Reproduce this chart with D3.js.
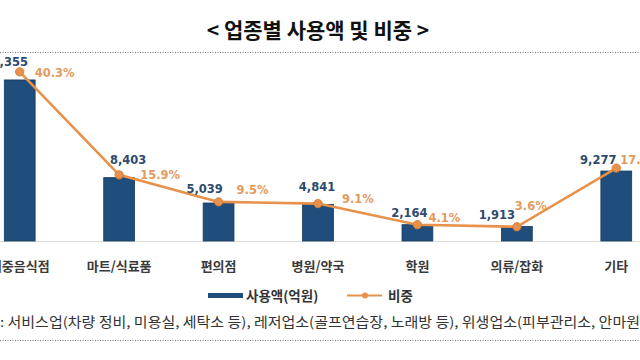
<!DOCTYPE html>
<html><head><meta charset="utf-8">
<script src="https://cdn.jsdelivr.net/npm/d3@7/dist/d3.min.js"></script>
<style>body{margin:0;background:#fff}svg{display:block}</style>
</head><body><svg id="c" width="640" height="360"></svg>
<script>
const categories = ["대중음식점","마트/식료품","편의점","병원/약국","학원","의류/잡화","기타"];
const amounts = [21355, 8403, 5039, 4841, 2164, 1913, 9277];
const shares = [40.3, 15.9, 9.5, 9.1, 4.1, 3.6, 17.5];
const seriesNames = ["사용액(억원)", "비중"];
const titleText = "< 업종별 사용액 및 비중 >";
const noteText = ": 서비스업(차량 정비, 미용실, 세탁소 등), 레저업소(골프연습장, 노래방 등), 위생업소(피부관리소, 안마원";

// layout (label offsets relative to line points)
const valOff = [[-14,-6],[9,-11],[-14,-9],[-1,-13],[-8,-8],[-20,-8],[-18,-4]];
const pctOff = [[15,5],[21,4],[18,-8],[24,-1],[11,-3],[-2,-17],[4,-4]];

const svg = d3.select("#c");
const KR = "'Noto Sans CJK KR','Noto Sans',sans-serif";
const NUM = "'DejaVu Sans',Verdana,sans-serif";
const BLUE = "#1f4e7c", ORANGE = "#e8914a";

svg.append("text").attr("x",318).attr("y",38).attr("text-anchor","middle")
  .attr("font-family",KR).attr("font-weight",700).attr("font-size",21).attr("fill","#111").text(titleText);
svg.append("line").attr("x1",0).attr("x2",640).attr("y1",52.5).attr("y2",52.5)
  .attr("stroke","#777").attr("stroke-dasharray","1,1.5");

const x = d3.scaleBand().domain(categories).range([-30,666]).paddingInner(0.69).paddingOuter(0.345);
const y = d3.scaleLinear().domain([0,24000]).range([241,60]);
const y2 = d3.scaleLinear().domain([0,45]).range([242,52]);

// baseline
svg.append("line").attr("x1",0).attr("x2",640).attr("y1",241.5).attr("y2",241.5).attr("stroke","#dcdcdc");

svg.selectAll("rect.bar").data(amounts).join("rect").attr("class","bar")
  .attr("x",(d,i)=>x(categories[i])).attr("width",x.bandwidth())
  .attr("y",d=>y(d)).attr("height",d=>y(0)-y(d))
  .attr("fill",BLUE).attr("stroke","#173a5e").attr("stroke-width",0.8);

const cx = i => x(categories[i]) + x.bandwidth()/2;
const line = d3.line().x((d,i)=>cx(i)).y(d=>y2(d));
svg.append("path").datum(shares).attr("d",line).attr("fill","none")
  .attr("stroke",ORANGE).attr("stroke-width",2.6);
svg.selectAll("circle.pt").data(shares).join("circle").attr("class","pt")
  .attr("cx",(d,i)=>cx(i)).attr("cy",d=>y2(d)).attr("r",4.2)
  .attr("fill",ORANGE).attr("stroke","#d27832").attr("stroke-width",0.8);

svg.selectAll("text.val").data(amounts).join("text").attr("class","val")
  .attr("x",(d,i)=>cx(i)+valOff[i][0]).attr("y",(d,i)=>y2(shares[i])+valOff[i][1])
  .attr("text-anchor","middle").attr("font-family",NUM).attr("font-weight",700)
  .attr("font-size",11.5).attr("fill","#2e4a6f").text(d=>d3.format(",")(d));
svg.selectAll("text.pct").data(shares).join("text").attr("class","pct")
  .attr("x",(d,i)=>cx(i)+pctOff[i][0]).attr("y",(d,i)=>y2(d)+pctOff[i][1])
  .attr("text-anchor","start").attr("font-family",NUM).attr("font-weight",700)
  .attr("font-size",11.5).attr("fill","#e59a5e").text(d=>d.toFixed(1)+"%");

// category axis labels
const ax = svg.append("g").attr("transform","translate(0,241)")
  .call(d3.axisBottom(x).tickSize(0).tickPadding(21));
ax.select(".domain").remove();
ax.selectAll("text").attr("font-family",KR).attr("font-weight",700).attr("font-size",13).attr("fill","#3a3a3a");

// legend
const lg = svg.append("g");
lg.append("rect").attr("x",208).attr("y",293).attr("width",35).attr("height",5).attr("fill",BLUE);
lg.append("text").attr("x",246).attr("y",300.5).attr("font-family",KR).attr("font-weight",700)
  .attr("font-size",13.5).attr("fill","#333").text(seriesNames[0]);
lg.append("line").attr("x1",347).attr("x2",382).attr("y1",295.5).attr("y2",295.5).attr("stroke",ORANGE).attr("stroke-width",2.2);
lg.append("circle").attr("cx",365).attr("cy",295.5).attr("r",3).attr("fill",ORANGE);
lg.append("text").attr("x",388).attr("y",300.5).attr("font-family",KR).attr("font-weight",700)
  .attr("font-size",13.5).attr("fill","#333").text(seriesNames[1]);

// footnote
svg.append("text").attr("x",0).attr("y",327).attr("font-family",KR).attr("font-size",13.5)
  .attr("fill","#333").attr("textLength",640).attr("lengthAdjust","spacingAndGlyphs").text(noteText);
svg.append("line").attr("x1",0).attr("x2",640).attr("y1",340.5).attr("y2",340.5)
  .attr("stroke","#777").attr("stroke-dasharray","1,1.5");
</script></body></html>
